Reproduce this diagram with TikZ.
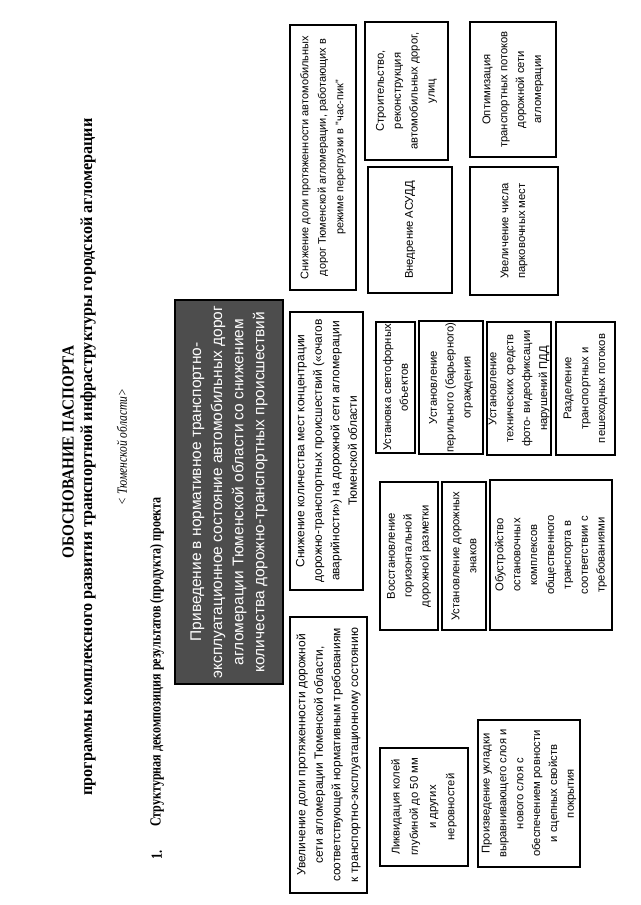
\documentclass[tikz,border=0pt]{standalone}
\usepackage{fontspec}
\setmainfont{Liberation Serif}
\setsansfont{Liberation Sans}
\usepackage{xcolor}
\usepackage{graphicx}
\definecolor{goalgray}{HTML}{4D4D4D}

\begin{document}
\begin{tikzpicture}[
    x=0.025cm, y=-0.025cm,
    box/.style={draw, rectangle, line width=1.3pt, rotate=90, align=center, inner sep=1pt, font=\sffamily\fontsize{8}{12}\selectfont},
    result/.style={box, font=\sffamily\fontsize{8.5}{12.5}\selectfont},
    goal/.style={box, fill=goalgray, text=white, font=\sffamily\fontsize{11}{15}\selectfont},
    head/.style={rotate=90, inner sep=0pt, font=\bfseries\fontsize{12}{14}\selectfont}
]
\useasboundingbox (0,0) rectangle (640,905);

% page heading
\node[head] (title) at (68,452) {\scalebox{0.9}[1]{ОБОСНОВАНИЕ ПАСПОРТА}};
\node[head] (program) at (88,457) {\scalebox{0.96}[1]{программы комплексного развития транспортной инфраструктуры городской агломерации}};
\node[head, font=\itshape\fontsize{10}{12}\selectfont] (region) at (122,447) {\scalebox{0.82}[1]{< Тюменской области>}};
\node[head, font=\bfseries\fontsize{11}{13}\selectfont] (num) at (157,855) {\scalebox{0.8}[1]{1.}};
\node[head, font=\bfseries\fontsize{11}{13}\selectfont] (section) at (157,662) {\scalebox{0.78}[1]{Структурная декомпозиция результатов (продукта) проекта}};

% goal
\node[goal, minimum width=9.6cm, minimum height=2.7cm] (goal) at (229,492)
    {Приведение в нормативное транспортно-\\эксплуатационное состояние автомобильных дорог\\агломерации Тюменской области со снижением\\количества дорожно-транспортных происшествий};

% results
\node[result, minimum width=6.9cm, minimum height=1.925cm] (resroad) at (328.5,755)
    {Увеличение доли протяженности дорожной\\сети агломерации Тюменской области,\\соответствующей нормативным требованиям\\к транспортно-эксплуатационному состоянию};
\node[result, minimum width=6.95cm, minimum height=1.825cm] (rescrash) at (326.5,451)
    {Снижение количества мест концентрации\\дорожно-транспортных происшествий («очагов\\аварийности») на дорожной сети агломерации\\Тюменской области};
\node[result, font=\sffamily\fontsize{7.8}{12.5}\selectfont, minimum width=6.625cm, minimum height=1.65cm] (resload) at (323,157.5)
    {Снижение доли протяженности автомобильных\\дорог Тюменской агломерации, работающих в\\режиме перегрузки в "час-пик"};

% tasks: road surface
\node[box, minimum width=2.95cm, minimum height=2.2cm, font=\sffamily\fontsize{8}{13}\selectfont] (rut) at (424,807)
    {Ликвидация колей\\глубиной до 50 мм\\и других\\неровностей};
\node[box, minimum width=3.675cm, minimum height=2.55cm] (layer) at (529,793.5)
    {Произведение укладки\\выравнивающего слоя и\\нового слоя с\\обеспечением ровности\\и сцепных свойств\\покрытия};

% tasks: crash sites
\node[box, minimum width=3.7cm, minimum height=1.45cm] (marking) at (409,556)
    {Восстановление\\горизонтальной\\дорожной разметки};
\node[box, minimum width=3.7cm, minimum height=1.1cm] (signs) at (464,556)
    {Установление дорожных\\знаков};
\node[box, minimum width=3.75cm, minimum height=3.05cm] (stops) at (551,555)
    {Обустройство\\остановочных\\комплексов\\общественного\\транспорта в\\соответствии с\\требованиями};
\node[box, minimum width=3.275cm, minimum height=0.975cm] (lights) at (395.5,387.5)
    {Установка светофорных\\объектов};
\node[box, minimum width=3.275cm, minimum height=1.6cm] (fence) at (451,387.5)
    {Установление\\перильного (барьерного)\\ограждения};
\node[box, minimum width=3.325cm, minimum height=1.55cm] (photo) at (519,388.5)
    {Установление\\технических средств\\фото- видеофиксации\\нарушений ПДД};
\node[box, minimum width=3.325cm, minimum height=1.475cm] (split) at (585.5,388.5)
    {Разделение\\транспортных и\\пешеходных потоков};

% tasks: congestion
\node[box, minimum width=3.45cm, minimum height=2.075cm] (build) at (406.5,91)
    {Строительство,\\реконструкция\\автомобильных дорог,\\улиц};
\node[box, minimum width=3.15cm, minimum height=2.1cm] (asudd) at (410,230)
    {Внедрение АСУДД};
\node[box, minimum width=3.375cm, minimum height=2.15cm] (optim) at (513,89.5)
    {Оптимизация\\транспортных потоков\\дорожной сети\\агломерации};
\node[box, minimum width=3.2cm, minimum height=2.2cm] (parking) at (514,231)
    {Увеличение числа\\парковочных мест};

\end{tikzpicture}
\end{document}
